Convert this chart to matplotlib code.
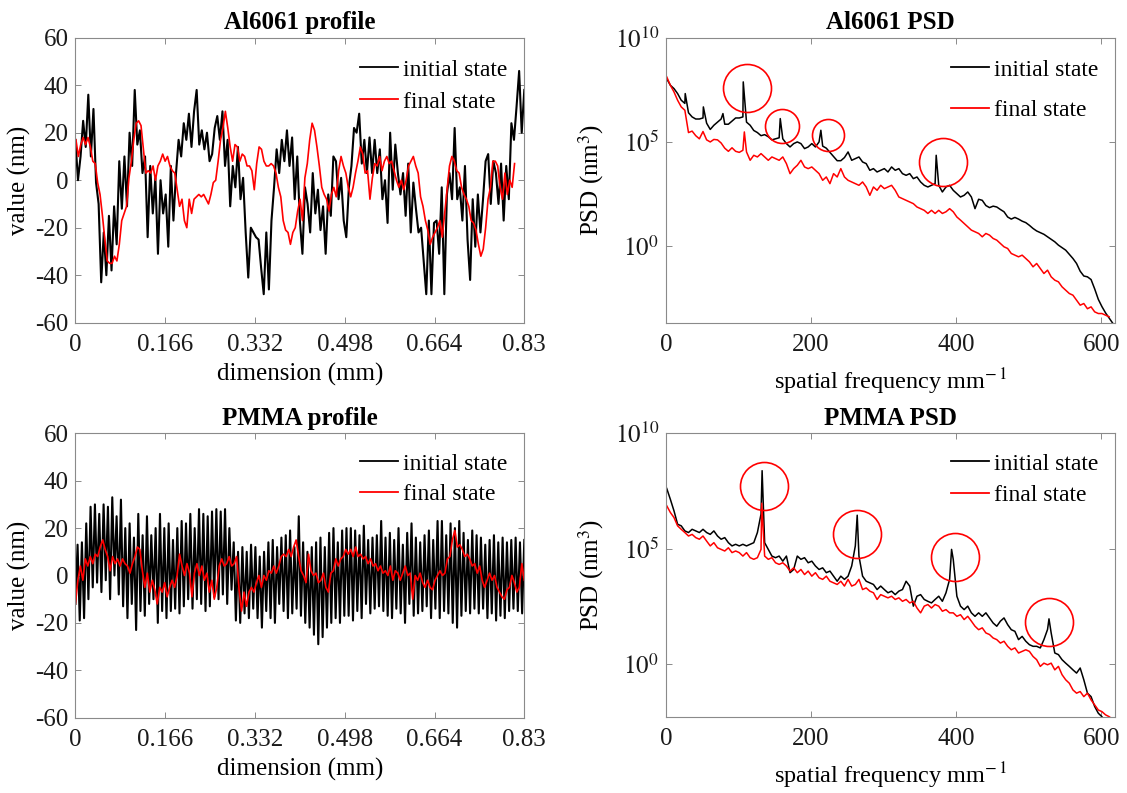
import numpy as np
import matplotlib
matplotlib.use("Agg")
import matplotlib.pyplot as plt
from matplotlib.ticker import FixedLocator, FixedFormatter, NullLocator

plt.rcParams['font.family'] = ['Liberation Serif', 'DejaVu Serif']
plt.rcParams['mathtext.fontset'] = 'stix'
plt.rcParams['axes.unicode_minus'] = False

# ---------------- DATA ----------------
# Al6061 profile (nm), sampled uniformly over 0..0.83 mm
al_initial = [17, 0, 10, 25, 14, 36, 10, 30, -1, -10, -43, -22, -40, -15, -38, -11, -27, 8, -12, 10,
              -11, 20, 6, 38, 15, 21, 3, 10, -24, 6, -14, 1, -31, 0, -14, -6, -28, 6, -17, 3,
              17, 10, 24, 17, 28, 14, 29, 38, 15, 21, 13, 20, 8, 11, 22, 27, 17, 29, 6, 17,
              -11, 6, -3, 14, -8, 1, -22, -41, -20, -22, -24, -25, -37, -48, -22, -46, -17, -3, 13, 3,
              17, 8, 21, 6, 18, -8, 10, -17, -31, -3, -10, -22, 3, -14, -4, -21, -11, -31, -6, -15,
              10, 8, -8, 1, -17, -24, -3, 6, 22, 20, 28, 7, 17, 3, 18, 3, 17, 3, 13, -8,
              0, -18, 20, -4, 15, 3, -6, 3, -15, 7, -22, -1, -12, -22, -20, -34, -48, -17, -48, -18,
              -17, -31, -3, -48, -6, 3, -8, 22, -8, -3, -17, 6, -25, -42, -8, -28, -6, -22, -8, 8,
              11, -10, 8, 3, -10, 7, -17, 6, -8, 24, 17, 31, 46, 20, 38]
al_final = [17, 10, 15, 18, 15, 18, 14, 8, 7, -1, -6, -15, -25, -34, -35, -35, -32, -34, -27, -17,
            -14, -11, 1, 8, 17, 24, 25, 23, 13, 3, 4, 3, 6, 0, 6, 8, 11, 8, 10, 6,
            4, 3, -4, -11, -8, -17, -20, -8, -14, -8, -7, -6, -7, -6, -8, -10, -6, -1, 0, 8,
            17, 22, 29, 22, 14, 8, 15, 14, 8, 11, 10, 6, 6, 4, -4, 7, 14, 13, 8, 6,
            6, 7, 6, 3, -3, -7, -17, -21, -22, -27, -22, -20, -13, -8, -17, 1, 7, 17, 24, 21,
            14, 6, -3, -6, -8, -13, -6, -3, -7, 4, 10, 6, 3, -3, -7, -3, 3, 8, 14, 11,
            3, 4, -8, 1, 7, 6, 10, 4, 8, 10, 7, 8, 4, 0, -3, 0, -4, 0, 6, 8,
            10, 6, 3, -7, -11, -17, -21, -27, -24, -22, -20, -17, -24, -14, -4, 6, 10, 8, 4, 3,
            -3, -6, -8, -11, -17, -18, -21, -27, -32, -29, -20, -8, -3, 8, 8, 6, -3, -8, 3, -6,
            0, -3, 7]
al_final_end_mm = 0.812

# PMMA profile (nm): initial state alternates troughs and peaks
pmma_initial_troughs = [-12, -19, -18,
                        -10, -5, -3, -7,
                        -2, -10, 0, -8,
                        -13, -18, -12, -23, -15,
                        -17, -12, -10, -20, -15, -18,
                        -15, -14, -16, -13, -10, -14,
                        -10, -12, -15, -13, -9, -10,
                        -8, -12, -6, -19,
                        -20, -16, -18, -14, -18, -22, -15,
                        -18, -20, -12, -15, -18, -16, -14, -17,
                        -20, -22, -25, -29, -26, -22, -20, -18, -20, -17,
                        -17, -19, -15, -18, -12, -16, -14, -13, -15, -17,
                        -18, -14, -16, -20, -12, -17, -16, -15, -13, -18,
                        -14, -18, -15, -16, -20, -22, -17, -15, -16, -14,
                        -16, -14, -18, -16, -19, -17, -18, -15, -14, -15, -16]
pmma_initial_peaks = [13, 14, 22,
                      29, 30, 26, 30,
                      29, 33, 25, 32,
                      20, 22, 16, 26, 17,
                      25, 17, 20, 26, 20, 22,
                      15, 20, 23, 22, 26, 20,
                      28, 26, 25, 27, 28, 27,
                      28, 20, 14, 10,
                      12, 10, 13, 12, 8, 10, 14,
                      15, 12, 16, 17, 19, 12, 25, 14,
                      10, 12, 14, 16, 12, 18, 20, 14, 19, 20,
                      20, 19, 17, 21, 15, 16, 17, 23, 16, 18,
                      15, 20, 13, 18, 22, 16, 14, 17, 19, 15,
                      23, 23, 17, 22, 20, 23, 18, 15, 19, 17,
                      16, 13, 15, 17, 14, 16, 14, 15, 16, 14, 15]
pmma_final = [-12, -2, 4, -2, 7, 4, 8, 5, 9, 8, 12, 15, 11, 8, 2, 8, 5, 7, 4, 7,
              5, 4, 1, 5, 8, 12, 11, 2, -5, 1, -7, -2, -6, -12, -5, -7, -3, -9, -5, -2,
              -5, 0, 9, 4, 0, 5, 1, -9, 1, 5, 0, 4, -2, 1, -7, -2, -10, -5, 4, 7,
              4, 5, 8, 4, 5, 8, -6, -15, -7, -13, -7, -5, -7, -3, 0, -5, 0, -2, 2, 1,
              4, 1, 4, 8, 9, 8, 11, 8, 12, 15, 8, 2, 0, -3, 9, 2, 0, 1, -3, -2,
              1, -5, -7, 1, 2, 7, 4, 7, 8, 11, 9, 11, 8, 12, 8, 9, 7, 8, 5, 7,
              4, 5, 2, 4, 1, 2, 0, 4, -2, 2, 1, -2, 1, 4, 0, 1, -10, 0, -2, 1,
              -3, -5, -2, -5, -6, -2, 0, 2, 0, 1, 7, 8, 15, 19, 12, 13, 11, 8, 9, 7,
              4, 5, 1, 4, -2, -5, -2, 1, -2, 0, -5, -7, -9, -10, -6, -5, 0, -3, -7, -5,
              5, -2]

# Al6061 PSD: log10(PSD / nm^3) on a 5 mm^-1 grid starting at 1 mm^-1, plus narrow peaks
al_psd_initial = [8.03, 7.72, 7.56, 7.32, 7.0, 6.85, 6.4, 6.2, 6.1, 6.1,
                  6.15, 5.9, 5.6, 5.8, 5.95, 6.1, 5.85, 5.85, 6.0, 6.15,
                  6.15, 6.2, 5.95, 5.8, 5.55, 5.45, 5.3, 5.35, 5.25, 5.1,
                  5.15, 5.2, 5.15, 4.92, 4.76, 4.92, 5.0, 4.92, 4.68, 4.76,
                  4.92, 4.76, 5.0, 4.8, 4.7, 4.5, 4.3, 4.1, 4.1, 4.25,
                  4.52, 4.12, 4.2, 4.28, 4.04, 3.96, 3.64, 3.72, 3.56, 3.64,
                  3.72, 3.56, 3.8, 3.64, 3.72, 3.48, 3.4, 3.48, 3.24, 3.32,
                  3.08, 2.92, 2.84, 2.92, 3.0, 2.92, 2.6, 2.84, 2.92, 2.68,
                  2.52, 2.36, 2.44, 2.6, 2.36, 1.8, 2.25, 2.2, 1.95, 1.85,
                  1.92, 1.88, 1.76, 1.65, 1.4, 1.3, 1.38, 1.3, 1.2, 1.13,
                  1.0, 0.85, 0.73, 0.65, 0.57, 0.45, 0.33, 0.21, 0.05, -0.07,
                  -0.19, -0.39, -0.59, -0.83, -1.2, -1.43, -1.47, -1.6, -2.05, -2.55,
                  -2.9, -3.2, -3.45, -3.7]
al_psd_initial_peak_freq = [26.5, 51.5, 78.5, 106.5, 157.5, 213.5, 372.5]
al_psd_initial_peak_log = [7.32, 6.68, 6.36, 7.88, 6.12, 5.56, 4.36]
al_psd_final = [8.12, 7.72, 7.4, 7.0, 6.68, 6.52, 5.45, 5.52, 5.3, 5.15,
                5.5, 5.1, 5.0, 5.12, 5.1, 4.95, 4.7, 4.55, 4.72, 4.55,
                4.5, 4.6, 4.52, 4.12, 4.36, 4.28, 4.44, 4.28, 4.12, 4.28,
                4.2, 4.12, 4.28, 3.96, 3.48, 3.72, 3.88, 4.12, 3.8, 3.72,
                3.8, 3.64, 3.48, 3.16, 3.32, 3.0, 3.48, 3.32, 3.72, 3.32,
                3.16, 3.08, 3.0, 2.92, 3.08, 2.84, 2.44, 2.84, 2.68, 2.92,
                2.76, 2.84, 2.92, 2.68, 2.36, 2.28, 2.2, 2.12, 2.04, 1.88,
                1.8, 1.72, 1.57, 1.72, 1.57, 1.72, 1.57, 1.65, 1.8, 1.65,
                1.4, 1.25, 1.09, 0.93, 0.77, 0.69, 0.61, 0.45, 0.61, 0.53,
                0.37, 0.29, 0.13, -0.03, -0.11, -0.35, -0.43, -0.51, -0.43, -0.59,
                -0.75, -0.99, -0.83, -1.07, -1.31, -1.15, -1.47, -1.63, -1.71, -1.95,
                -2.11, -2.27, -2.35, -2.59, -2.83, -2.75, -3.0, -2.91, -3.15, -3.23,
                -3.23, -3.31, -3.39]
al_psd_final_peak_freq = [108.0]
al_psd_final_peak_log = [5.48]
al_circle_freq = [111.6, 160.5, 222.9, 381.2]
al_circle_log = [7.60, 5.75, 5.35, 4.02]

# PMMA PSD
pmma_psd_initial = [7.61, 7.14, 6.64, 6.06, 5.99, 5.77, 5.70, 5.84, 5.77, 5.70,
                    5.84, 5.70, 5.62, 5.77, 5.55, 5.41, 5.48, 5.26, 5.12, 5.19,
                    5.12, 5.19, 5.12, 5.19, 5.26, 5.70, 6.5, 5.26, 4.97, 4.68,
                    4.61, 4.68, 4.46, 4.68, 3.96, 4.1, 4.68, 4.54, 4.61, 4.39,
                    4.46, 4.25, 4.1, 4.17, 3.96, 4.03, 3.81, 3.59, 3.81, 3.67,
                    3.81, 4.25, 5.12, 4.68, 3.81, 3.59, 3.52, 3.45, 3.23, 3.38,
                    3.23, 3.09, 3.16, 3.01, 3.16, 3.23, 3.59, 3.38, 2.51, 2.94,
                    3.01, 2.80, 2.72, 2.65, 2.80, 2.94, 2.72, 3.09, 3.67, 4.54,
                    2.94, 2.51, 2.36, 2.51, 2.22, 2.07, 2.22, 2.07, 2.22, 2.0,
                    1.78, 1.64, 1.86, 2.0, 1.71, 1.49, 1.42, 1.06, 1.2, 0.99,
                    0.84, 0.77, 0.77, 0.70, 1.06, 1.5, 1.35, 0.48, 0.41, 0.19,
                    0.04, -0.1, -0.25, -0.39, -0.17, -0.68, -1.26, -1.41, -1.84, -2.13,
                    -2.28, -2.6]
pmma_psd_initial_peak_freq = [132.5, 263.6, 393.7, 528.0]
pmma_psd_initial_peak_log = [8.38, 6.45, 4.97, 1.96]
pmma_psd_final = [6.86, 6.57, 6.35, 5.99, 5.84, 5.70, 5.55, 5.62, 5.48, 5.41,
                  5.55, 5.33, 5.12, 5.26, 5.04, 4.97, 4.9, 5.04, 4.83, 4.9,
                  4.83, 4.68, 4.83, 4.61, 4.54, 4.61, 4.97, 4.68, 4.54, 4.61,
                  4.39, 4.32, 4.39, 4.25, 4.03, 4.17, 3.96, 4.1, 3.88, 4.03,
                  3.81, 3.96, 3.74, 3.67, 3.81, 3.59, 3.52, 3.45, 3.59, 3.38,
                  3.67, 3.38, 3.45, 3.67, 3.23, 3.30, 3.16, 3.09, 2.80, 3.01,
                  2.94, 2.87, 2.94, 2.8, 2.87, 2.72, 2.8, 2.65, 2.72, 2.43,
                  2.22, 2.51, 2.58, 2.43, 2.58, 2.51, 2.29, 2.36, 2.22, 2.22,
                  2.07, 2.14, 1.93, 2.07, 1.86, 1.64, 1.49, 1.57, 1.35, 1.28,
                  1.13, 1.06, 0.91, 0.99, 0.77, 0.62, 0.70, 0.48, 0.55, 0.62,
                  0.55, 0.33, 0.19, -0.1, 0.04, -0.03, 0.04, -0.25, -0.1, -0.46,
                  -0.68, -0.83, -1.12, -1.26, -1.19, -1.41, -1.26, -1.55, -1.77, -1.99,
                  -2.06, -2.2, -2.28, -2.4]
pmma_psd_final_peak_freq = [132.0]
pmma_psd_final_peak_log = [6.97]
pmma_circle_freq = [135.5, 263.6, 398.7, 528.2]
pmma_circle_log = [7.72, 5.65, 4.65, 1.83]

grid_start, grid_step = 1.0, 5.0
profile_ticks = [0, 0.166, 0.332, 0.498, 0.664, 0.83]
profile_ticklabels = ['0', '0.166', '0.332', '0.498', '0.664', '0.83']
psd_xticks = [0, 200, 400, 600]
psd_yticks_exp = [0, 5, 10]

# ---------------- STYLE ----------------
BLACK = '#000000'
RED = '#ff0000'
SPINE = '#8a8a8a'
FS = 18
LFS = 17

fig = plt.figure(figsize=(11.27, 7.93), dpi=100)
W, H = 1127, 793


def px_axes(l, t, r, b):
    return fig.add_axes([l / W, 1 - b / H, (r - l) / W, (b - t) / H])


ax1 = px_axes(75.4, 37.7, 524.3, 322.7)
ax2 = px_axes(666, 37.7, 1115, 322.7)
ax3 = px_axes(75.4, 433.3, 524.3, 717.7)
ax4 = px_axes(666, 433.3, 1115, 716.7)


def style(ax):
    for s in ax.spines.values():
        s.set_color(SPINE)
        s.set_linewidth(0.8)
    ax.tick_params(direction='in', top=True, right=True, length=4, width=0.7,
                   color=SPINE, labelsize=FS, labelcolor='#1a1a1a')
    ax.tick_params(axis='x', pad=8)
    ax.tick_params(axis='y', pad=5)


def legend(ax, spacing, anchor):
    leg = ax.legend(loc='upper right', bbox_to_anchor=anchor, frameon=False, fontsize=LFS,
                    handlelength=1.6, handletextpad=0.2, labelspacing=spacing,
                    borderaxespad=0.0, borderpad=0.0)
    for h in leg.get_lines():
        h.set_linewidth(1.3)


def profile(ax, title, legend_spacing, anchor):
    style(ax)
    ax.set_xlim(0, 0.83)
    ax.set_ylim(-60, 60)
    ax.xaxis.set_major_locator(FixedLocator(profile_ticks))
    ax.xaxis.set_major_formatter(FixedFormatter(profile_ticklabels))
    ax.yaxis.set_major_locator(FixedLocator([-60, -40, -20, 0, 20, 40, 60]))
    ax.set_title(title, fontsize=FS, fontweight='bold', pad=6)
    ax.set_xlabel('dimension (mm)', fontsize=FS, labelpad=5)
    ax.set_ylabel('value (nm)', fontsize=FS, labelpad=3)
    legend(ax, legend_spacing, anchor)


def merged(base, pk_f, pk_v):
    f = grid_start + grid_step * np.arange(len(base))
    f = np.concatenate([f, pk_f])
    v = np.concatenate([np.asarray(base, float), pk_v])
    o = np.argsort(f, kind='stable')
    return f[o], 10.0 ** v[o]


def psd(ax, title, ybottom, circ_f, circ_v, circ_r, legend_spacing, anchor):
    style(ax)
    ax.set_yscale('log')
    ax.set_xlim(0, 619)
    ax.set_ylim(10.0 ** ybottom, 1e10)
    ax.xaxis.set_major_locator(FixedLocator(psd_xticks))
    ax.yaxis.set_major_locator(FixedLocator([10.0 ** e for e in psd_yticks_exp]))
    ax.yaxis.set_major_formatter(FixedFormatter([r'$10^{%d}$' % e for e in psd_yticks_exp]))
    ax.yaxis.set_minor_locator(NullLocator())
    ax.set_title(title, fontsize=FS, fontweight='bold', pad=6)
    ax.set_xlabel('spatial frequency mm$^{-\\,1}$', fontsize=FS - 0.5, labelpad=8)
    ax.set_ylabel('PSD (nm$^3$)', fontsize=FS, labelpad=6)
    for f, v, r in zip(circ_f, circ_v, circ_r):
        ax.plot([f], [10.0 ** v], marker='o', ms=2 * r * 72 / 100, mfc='none',
                mec=RED, mew=1.2, ls='none', zorder=5, clip_on=False)
    legend(ax, legend_spacing, anchor)


# ---- Al6061 profile ----
x = np.linspace(0, 0.83, len(al_initial))
ax1.plot(x, al_initial, color=BLACK, lw=1.5, label='initial state')
x = np.linspace(0.001, al_final_end_mm, len(al_final))
ax1.plot(x, al_final, color=RED, lw=1.2, label='final state')
profile(ax1, 'Al6061 profile', 0.45, (0.962, 0.925))

# ---- PMMA profile ----
vals = np.column_stack([pmma_initial_troughs, pmma_initial_peaks]).ravel()
x = np.linspace(0, 0.83, len(vals))
ax3.plot(x, vals, color=BLACK, lw=1.5, label='initial state')
x = np.linspace(0, 0.83, len(pmma_final))
ax3.plot(x, pmma_final, color=RED, lw=1.2, label='final state')
profile(ax3, 'PMMA profile', 0.37, (0.962, 0.93))

# ---- Al6061 PSD ----
f, v = merged(al_psd_initial, al_psd_initial_peak_freq, al_psd_initial_peak_log)
ax2.plot(f, v, color=BLACK, lw=1.1, label='initial state')
f, v = merged(al_psd_final, al_psd_final_peak_freq, al_psd_final_peak_log)
ax2.plot(f, v, color=RED, lw=1.1, label='final state')
psd(ax2, 'Al6061 PSD', -3.67, al_circle_freq, al_circle_log, [24, 17, 16, 24], 0.79, (0.962, 0.925))

# ---- PMMA PSD ----
f, v = merged(pmma_psd_initial, pmma_psd_initial_peak_freq, pmma_psd_initial_peak_log)
ax4.plot(f, v, color=BLACK, lw=1.1, label='initial state')
f, v = merged(pmma_psd_final, pmma_psd_final_peak_freq, pmma_psd_final_peak_log)
ax4.plot(f, v, color=RED, lw=1.1, label='final state')
psd(ax4, 'PMMA PSD', -2.28, pmma_circle_freq, pmma_circle_log, [24, 24, 24, 24], 0.41, (0.962, 0.93))

fig.savefig('out.png', dpi=100)
